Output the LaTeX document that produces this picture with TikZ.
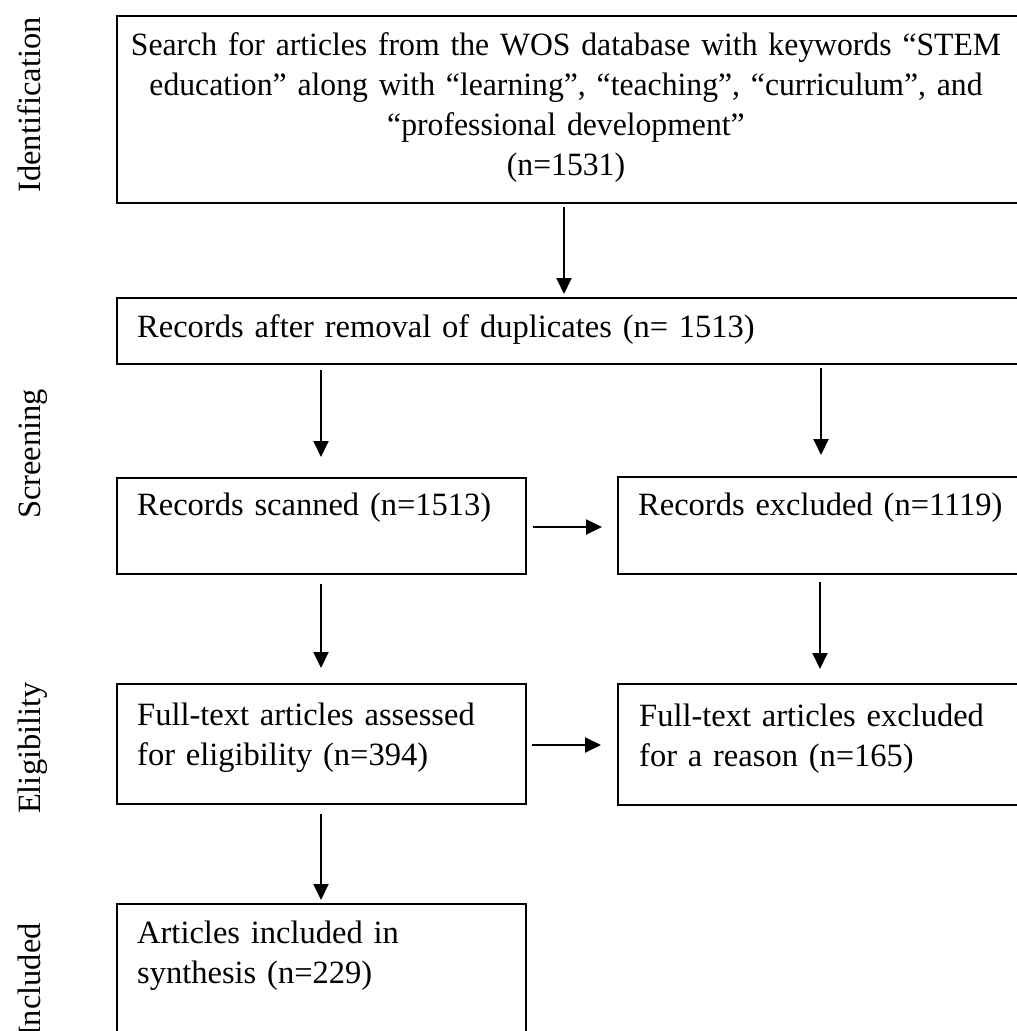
\documentclass[tikz,border=0pt]{standalone}
\usepackage{fontspec}
\setmainfont{Liberation Serif}
\newfontfamily\narrowfont[FakeStretch=0.975]{Liberation Serif}
\usetikzlibrary{arrows.meta,calc}
\begin{document}
\begin{tikzpicture}[x=1pt,y=-1pt,
  box/.style={draw,line width=2pt,inner sep=0pt,anchor=north west},
  txt/.style={inner sep=0pt,anchor=base west,align=left,font=\fontsize{32.5}{40}\selectfont},
  phase/.style={inner sep=0pt,anchor=base,rotate=90,font=\fontsize{32.5}{40}\selectfont},
  arr/.style={line width=2pt,-{Triangle[width=15pt,length=16pt]}}]
\useasboundingbox (0,0) rectangle (1017,1031);
\clip (0,0) rectangle (1017,1031);
% phase labels
\node[phase] (pid) at (40,105) {Identification};
\node[phase] (psc) at (40,454) {Screening};
\node[phase] (pel) at (40,748) {Eligibility};
\node[phase] (pin) at (40,980) {Included};
% boxes
\node[box,minimum width=909pt,minimum height=187pt] (b1) at (116,15) {};
\node[box,minimum width=909pt,minimum height=66pt] (b2) at (116,297) {};
\node[box,minimum width=409pt,minimum height=96pt] (b3l) at (116,477) {};
\node[box,minimum width=408pt,minimum height=97pt] (b3r) at (617,476) {};
\node[box,minimum width=409pt,minimum height=120pt] (b4l) at (116,683) {};
\node[box,minimum width=408pt,minimum height=121pt] (b4r) at (617,683) {};
\node[box,minimum width=409pt,minimum height=140pt] (b5) at (116,903) {};
% texts
\node[txt,anchor=base,text width=990pt,align=center,font=\narrowfont\fontsize{32.5}{40}\selectfont] (t1) at (566,55)
  {Search for articles from the WOS database with keywords “STEM\\
   education” along with “learning”, “teaching”, “curriculum”, and\\
   “professional development”\\
   (n=1531)};
\node[txt,text width=870pt] (t2) at (137,337) {Records after removal of duplicates (n= 1513)};
\node[txt,text width=380pt] (t3l) at (137,515) {Records scanned (n=1513)};
\node[txt,text width=370pt] (t3r) at (638,515) {Records excluded (n=1119)};
\node[txt,text width=380pt] (t4l) at (137,725) {Full-text articles assessed\\for eligibility (n=394)};
\node[txt,text width=370pt] (t4r) at (639,726) {Full-text articles excluded\\for a reason (n=165)};
\node[txt,text width=380pt] (t5) at (137,943) {Articles included in\\synthesis (n=229)};
% arrows
\draw[arr] ($(b1.south west)+(448,3)$) -- ($(b2.north west)+(448,-3)$);
\draw[arr] ($(b2.south west)+(205,5)$) -- ($(b3l.north west)+(205,-20)$);
\draw[arr] ($(b2.south west)+(705,3)$) -- ($(b3r.north west)+(204,-21)$);
\draw[arr] ($(b3l.north east)+(6,50)$) -- ($(b3r.north west)+(-15,51)$);
\draw[arr] ($(b3l.south west)+(205,9)$) -- ($(b4l.north west)+(205,-15)$);
\draw[arr] ($(b3r.south west)+(203,7)$) -- ($(b4r.north west)+(203,-14)$);
\draw[arr] ($(b4l.north east)+(5,62)$) -- ($(b4r.north west)+(-16,62)$);
\draw[arr] ($(b4l.south west)+(205,9)$) -- ($(b5.north west)+(205,-3)$);
\end{tikzpicture}
\end{document}
